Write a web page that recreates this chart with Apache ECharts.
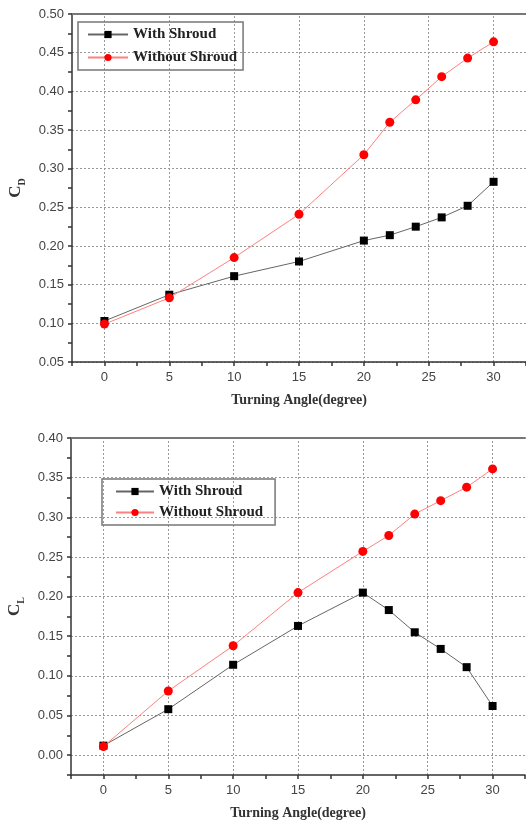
<!DOCTYPE html>
<html>
<head>
<meta charset="utf-8">
<script src="https://cdn.jsdelivr.net/npm/echarts@6/dist/echarts.min.js"></script>
<style>
  html, body { margin: 0; padding: 0; background: #fff; }
  #main { width: 526px; height: 827px; }
</style>
</head>
<body>
<div id="main"></div>
<script>
// turning angles (x)
const angles = [0, 5, 10, 15, 20, 22, 24, 26, 28, 30];
// drag coefficient
const cdWith = [0.103, 0.137, 0.161, 0.180, 0.207, 0.214, 0.225, 0.237, 0.252, 0.283];
const cdWithout = [0.099, 0.133, 0.185, 0.241, 0.318, 0.360, 0.389, 0.419, 0.443, 0.464];
// lift coefficient
const clWith = [0.012, 0.058, 0.114, 0.163, 0.205, 0.183, 0.155, 0.134, 0.111, 0.062];
const clWithout = [0.011, 0.081, 0.138, 0.205, 0.257, 0.277, 0.304, 0.321, 0.338, 0.361];
// tick labels
const xTicks = [0, 5, 10, 15, 20, 25, 30];
const cdTicks = [0.05, 0.10, 0.15, 0.20, 0.25, 0.30, 0.35, 0.40, 0.45, 0.50];
const clTicks = [0.00, 0.05, 0.10, 0.15, 0.20, 0.25, 0.30, 0.35, 0.40];

const seriesNames = ['With Shroud', 'Without Shroud'];

const chart = echarts.init(document.getElementById('main'));

function pairs(ys) {
  return angles.map((a, i) => [a, ys[i]]);
}
function inList(list, v) {
  return list.some(t => Math.abs(t - v) < 1e-6);
}

const labelFont = { color: '#444', fontFamily: 'Liberation Sans', fontSize: 13 };
const titleFont = { color: '#333', fontFamily: 'Liberation Serif', fontWeight: 'bold', fontSize: 14 };
const gridLine = { type: [2, 2], color: '#999', width: 1 };

function xAxisBottom(gi) {
  return {
    type: 'value', gridIndex: gi, min: -2.5, max: 32.5, interval: 2.5,
    name: 'Turning Angle(degree)', nameLocation: 'middle', nameGap: 31,
    nameTextStyle: titleFont,
    axisLine: { onZero: false, lineStyle: { color: '#333', width: 1.5 } },
    axisTick: { length: 4, lineStyle: { color: '#333', width: 1.5 } },
    axisLabel: Object.assign({ margin: 9, formatter: v => inList(xTicks, v) ? String(Math.round(v)) : '' }, labelFont),
    splitLine: { show: false }
  };
}
function xAxisTop(gi) {
  return {
    type: 'value', gridIndex: gi, position: 'top', min: -2.5, max: 32.5,
    axisLine: { onZero: false, lineStyle: { color: '#777', width: 2 } },
    axisTick: { show: false }, axisLabel: { show: false }, splitLine: { show: false }
  };
}
function yAxis(gi, min, max, ticks, sub) {
  return {
    type: 'value', gridIndex: gi, min: min, max: max, interval: 0.025,
    name: '{c|C}{s|' + sub + '}', nameLocation: 'middle', nameGap: 43, nameRotate: 90,
    nameTextStyle: {
      rich: {
        c: { fontFamily: 'Liberation Serif', fontWeight: 'bold', fontSize: 17, color: '#333', lineHeight: 24 },
        s: { fontFamily: 'Liberation Serif', fontWeight: 'bold', fontSize: 10, color: '#333', lineHeight: 10, verticalAlign: 'bottom' }
      }
    },
    axisLine: { onZero: false, lineStyle: { color: '#333', width: 1.5 } },
    axisTick: { length: 4, lineStyle: { color: '#333', width: 1.5 } },
    axisLabel: Object.assign({ margin: 8, formatter: v => inList(ticks, v) ? v.toFixed(2) : '' }, labelFont),
    splitLine: { show: false }
  };
}

// dotted grid drawn under the data, from the tick lists
function gridSeries(gi, yTicks) {
  return {
    name: 'grid' + gi, type: 'line', xAxisIndex: gi * 2, yAxisIndex: gi,
    data: [], z: 1, silent: true,
    markLine: {
      z: 0, silent: true, animation: false, symbol: ['none', 'none'],
      label: { show: false }, lineStyle: gridLine,
      emphasis: { disabled: true },
      data: xTicks.map(v => ({ xAxis: v })).concat(yTicks.map(v => ({ yAxis: v })))
    }
  };
}

function withSeries(gi, ys) {
  return {
    name: seriesNames[0], type: 'line', xAxisIndex: gi * 2, yAxisIndex: gi,
    data: pairs(ys), symbol: 'rect', symbolSize: 8,
    itemStyle: { color: '#000' }, lineStyle: { color: '#666', width: 1 }, z: 3
  };
}
function withoutSeries(gi, ys) {
  return {
    name: seriesNames[1], type: 'line', xAxisIndex: gi * 2, yAxisIndex: gi,
    data: pairs(ys), symbol: 'circle', symbolSize: 9,
    itemStyle: { color: '#ff0000' }, lineStyle: { color: '#ff8080', width: 1 }, z: 4
  };
}

const legendText = { fontFamily: 'Liberation Serif', fontWeight: 'bold', fontSize: 15, color: '#222' };

const option = {
  animation: false,
  backgroundColor: '#fff',
  grid: [
    { left: 72, top: 14, width: 454, height: 348, outerBoundsMode: 'none', containLabel: false },
    { left: 71, top: 438, width: 454, height: 337, outerBoundsMode: 'none', containLabel: false }
  ],
  legend: [
    {
      data: seriesNames, orient: 'vertical', left: 78, top: 22,
      itemWidth: 40, itemHeight: 9, itemGap: 8, padding: [5, 6, 5, 9],
      borderColor: '#777', borderWidth: 1.5, textStyle: legendText
    },
    {
      data: seriesNames, orient: 'vertical', left: 102, top: 479,
      itemWidth: 38, itemHeight: 9, itemGap: 6, padding: [5, 12, 5, 13],
      borderColor: '#777', borderWidth: 1.5, textStyle: legendText
    }
  ],
  xAxis: [xAxisBottom(0), xAxisTop(0), xAxisBottom(1), xAxisTop(1)],
  yAxis: [yAxis(0, 0.05, 0.50, cdTicks, 'D'), yAxis(1, -0.025, 0.40, clTicks, 'L')],
  series: [
    gridSeries(0, cdTicks),
    withSeries(0, cdWith),
    withoutSeries(0, cdWithout),
    gridSeries(1, clTicks),
    withSeries(1, clWith),
    withoutSeries(1, clWithout)
  ]
};

chart.setOption(option);
</script>
</body>
</html>
